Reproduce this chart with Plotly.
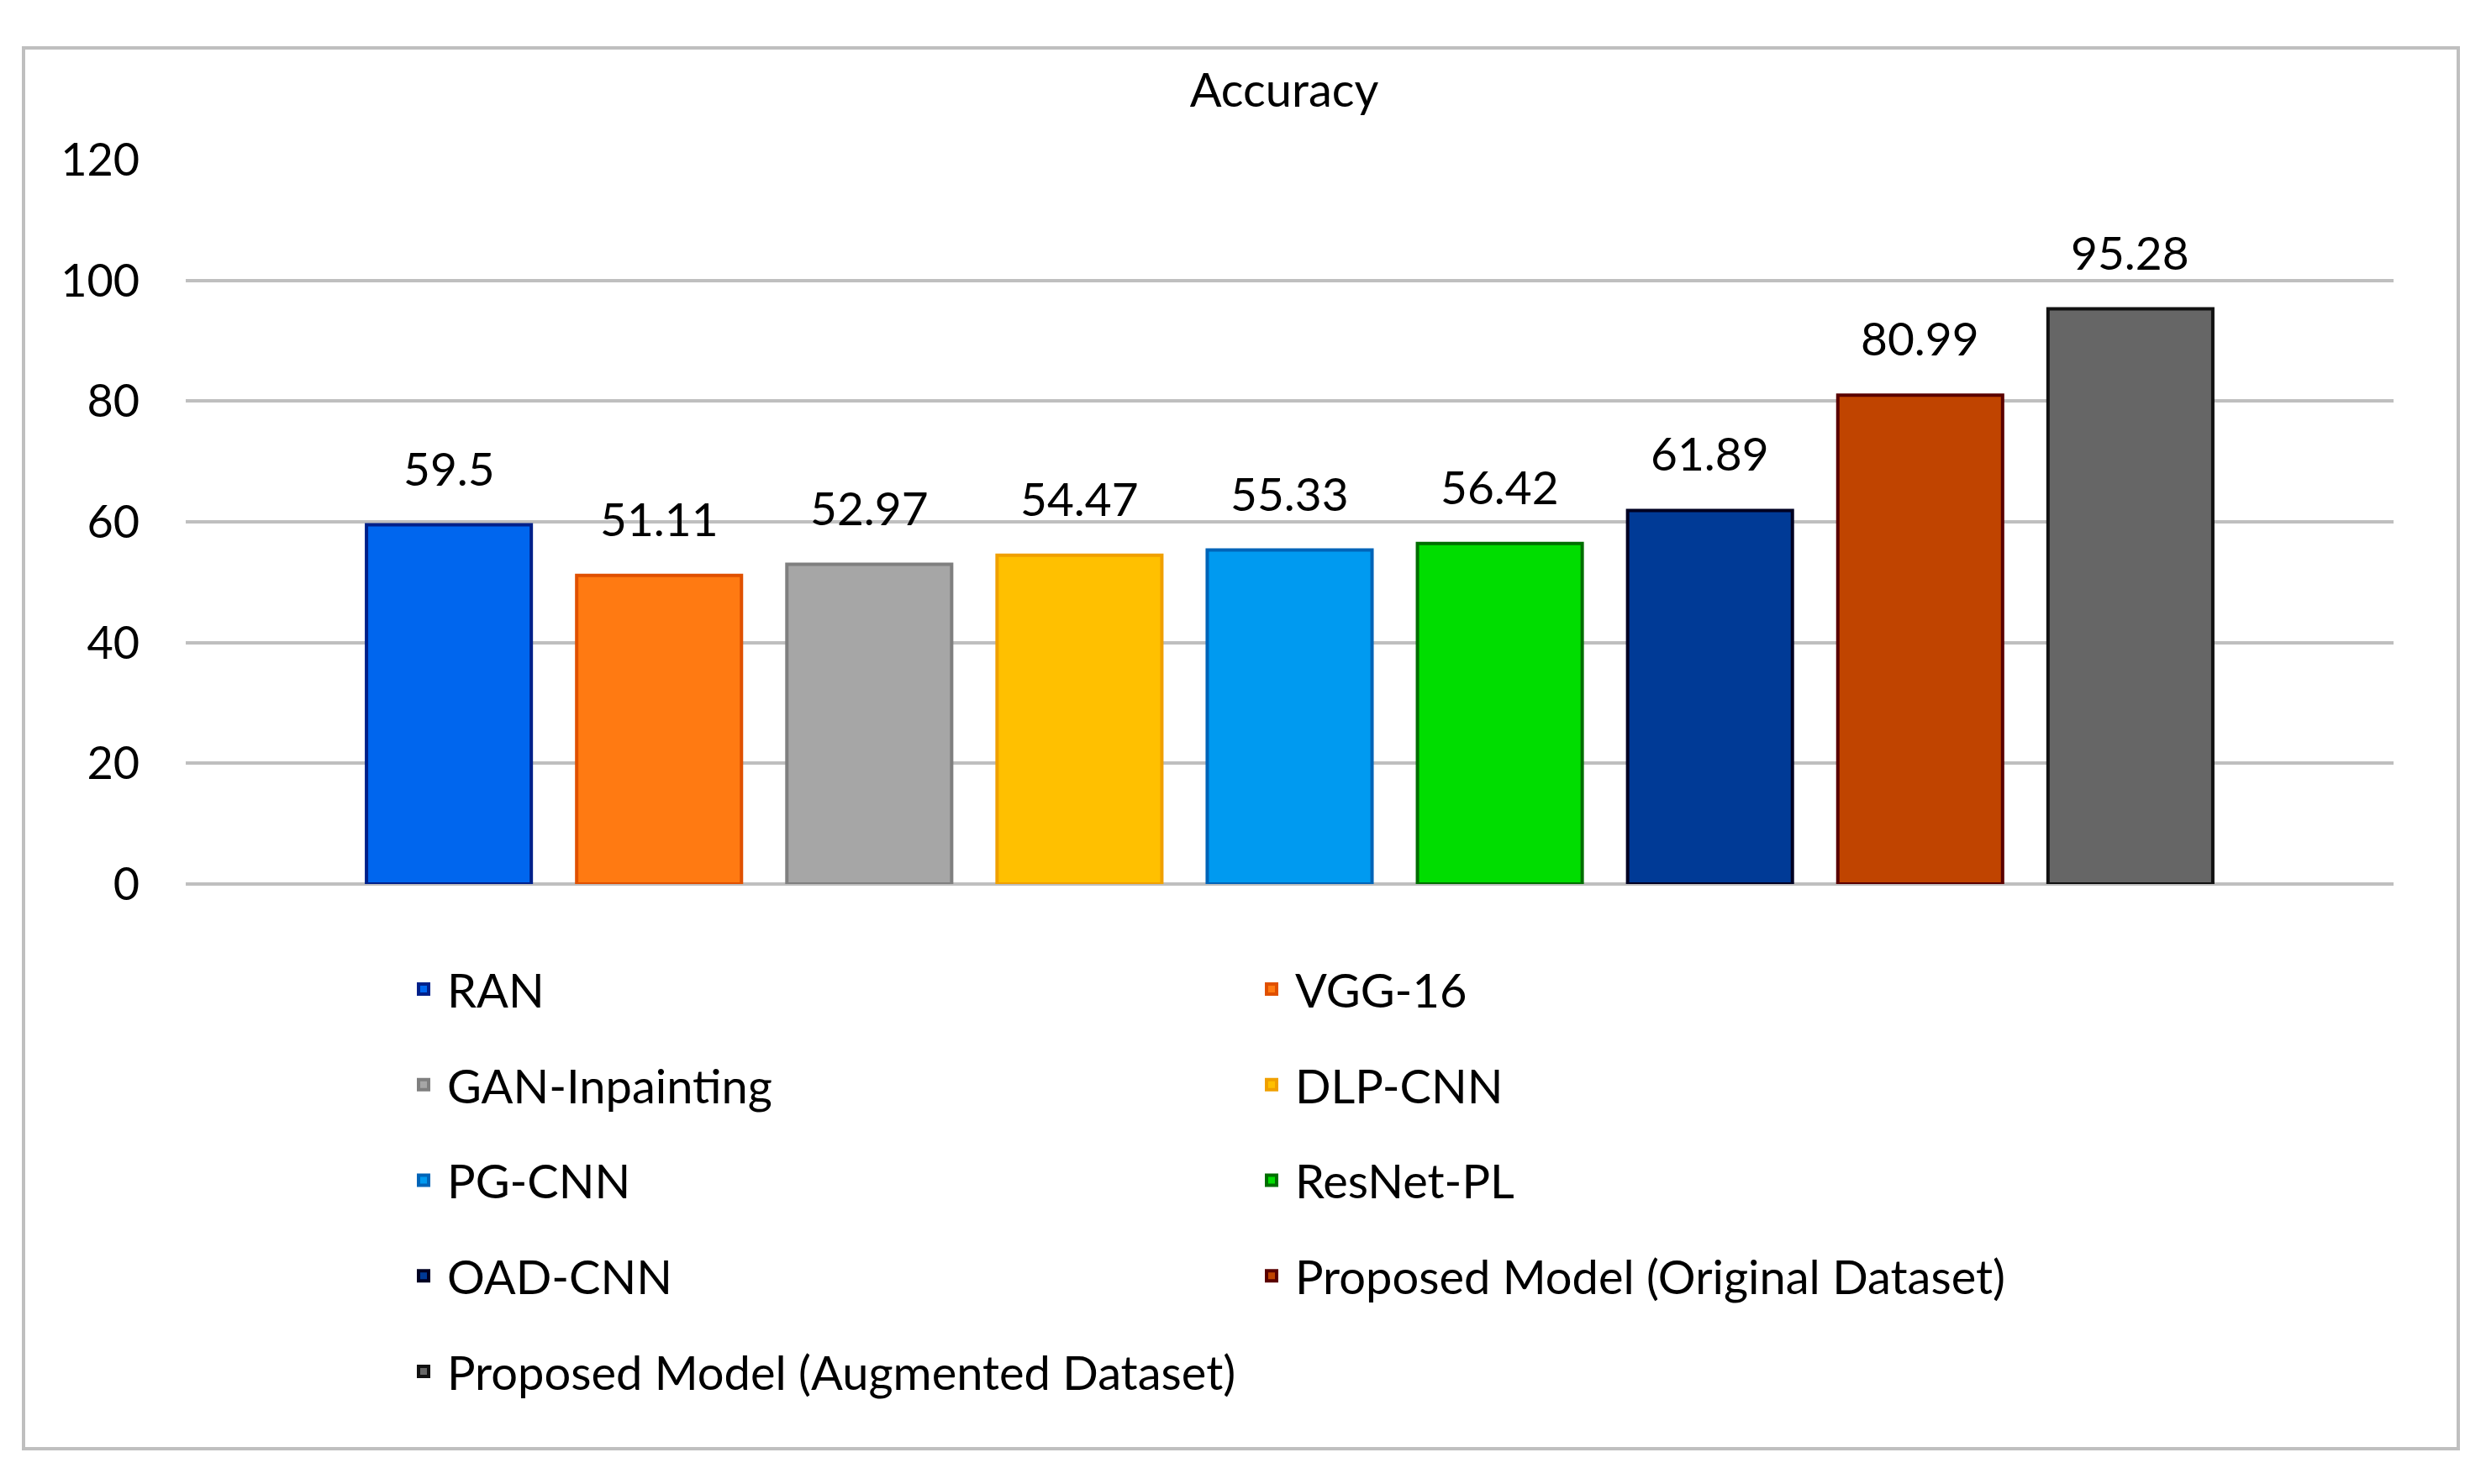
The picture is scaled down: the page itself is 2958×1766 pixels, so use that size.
import plotly.graph_objects as go

models = ["RAN", "VGG-16", "GAN-Inpainting", "DLP-CNN", "PG-CNN", "ResNet-PL",
          "OAD-CNN", "Proposed Model (Original Dataset)", "Proposed Model (Augmented Dataset)"]
accuracy = [59.5, 51.11, 52.97, 54.47, 55.33, 56.42, 61.89, 80.99, 95.28]
fill_colors = ["#0066EE", "#FF7A12", "#A6A6A6", "#FFC000", "#009AF0", "#00DD00",
               "#003A96", "#C04400", "#666666"]
edge_colors = ["#00208A", "#E05000", "#7F7F7F", "#F0A000", "#0064B8", "#006E00",
               "#000022", "#5A0000", "#111111"]
y_ticks = [0, 20, 40, 60, 80, 100, 120]

OFF = 8  # page offset of the figure in the browser
W, H = 2958, 1766
ML, MT = 221 - OFF, 190 - OFF
PW, PH = 2627, 862
MR = W - ML - PW
MB = H - MT - PH
FONT = "Lato"

fig = go.Figure()
left_col = [0, 2, 4, 6, 8]
for i, (m, v, fc, ec) in enumerate(zip(models, accuracy, fill_colors, edge_colors)):
    fig.add_trace(go.Bar(
        x=[m], y=[v], name=m,
        marker=dict(color=fc, line=dict(color=ec, width=4)),
        width=0.784,
        legend="legend" if i in left_col else "legend2",
        legendgroup=m,
    ))
    fig.add_annotation(x=m, y=v, text=str(v), showarrow=False,
                       yanchor="middle", yshift=68,
                       font=dict(family=FONT, size=55, color="#000000"))

def px_to_paper_x(px):
    return (px - OFF - ML) / PW

def px_to_paper_y(py):
    return (MT + PH - (py - OFF)) / PH

fig.add_shape(type="rect", xref="paper", yref="paper",
              x0=px_to_paper_x(28), x1=px_to_paper_x(2925),
              y0=px_to_paper_y(1724), y1=px_to_paper_y(57),
              line=dict(color="#BFBFBF", width=4), fillcolor="rgba(0,0,0,0)", layer="below")

legend_common = dict(orientation="v", xanchor="left", yanchor="top", tracegroupgap=38,
                     itemwidth=46,
                     font=dict(family=FONT, size=56, color="#000000"),
                     bgcolor="rgba(0,0,0,0)", itemclick=False)

fig.update_layout(
    width=W, height=H,
    margin=dict(l=ML, r=MR, t=MT, b=MB),
    paper_bgcolor="white", plot_bgcolor="white",
    barmode="overlay",
    font=dict(family=FONT, size=54, color="#000000"),
    title=dict(text="Accuracy", x=(1528 - OFF) / W, xanchor="center",
               y=1 - (107 - OFF) / H, yanchor="middle",
               font=dict(family=FONT, size=56, color="#000000")),
    xaxis=dict(type="category", categoryorder="array", categoryarray=models,
               range=[-1.252, 9.252], showticklabels=False, showgrid=False,
               zeroline=False, showline=False, ticks=""),
    yaxis=dict(range=[0, 120], tickvals=y_ticks, showgrid=True, gridcolor="#BFBFBF",
               gridwidth=4, zeroline=True, zerolinecolor="#BFBFBF", zerolinewidth=4,
               showline=False, ticks="outside", ticklen=43, tickcolor="rgba(0,0,0,0)",
               tickfont=dict(family=FONT, size=54, color="#000000")),
    legend=dict(x=px_to_paper_x(476), y=px_to_paper_y(1134), **legend_common),
    legend2=dict(x=px_to_paper_x(1485), y=px_to_paper_y(1134), **legend_common),
    showlegend=True,
)

fig.write_html("out.html")
